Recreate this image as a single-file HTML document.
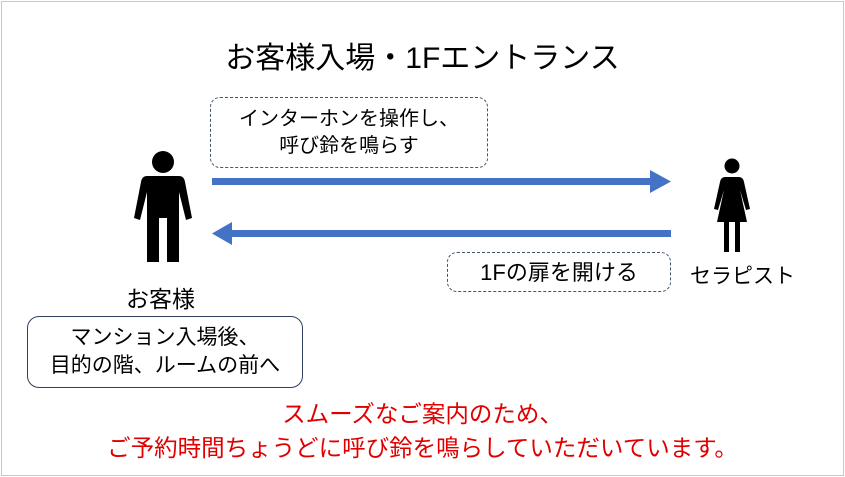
<!DOCTYPE html>
<html><head><meta charset="utf-8"><style>
body{margin:0;width:845px;height:477px;background:#fff;position:relative;overflow:hidden;font-family:"Liberation Sans","Noto Sans CJK JP",sans-serif;}
.t{position:absolute;white-space:nowrap;color:#000;}
.box{position:absolute;box-sizing:border-box;border-radius:10px;display:flex;align-items:center;justify-content:center;text-align:center;font-size:20px;line-height:27px;}
</style></head><body>
<div style="position:absolute;left:1px;top:1px;width:841px;height:473px;border:1px solid #c8c8c8;"></div>
<div class="t" style="left:0;width:845px;text-align:center;top:33px;font-size:30px;">お客様入場・1Fエントランス</div>
<div class="box" style="left:210px;top:97px;width:278px;height:71px;border:1px dashed #44546a;">インターホンを操作し、<br>呼び鈴を鳴らす</div>
<div class="box" style="left:447px;top:252px;width:224px;height:40px;border:1px dashed #44546a;font-size:22px;">1Fの扉を開ける</div>
<div class="box" style="left:27px;top:316px;width:276px;height:72px;border:1px solid #2f3f5f;border-radius:12px;font-size:21px;line-height:28px;">マンション入場後、<br>目的の階、ルームの前へ</div>
<div class="t" style="left:126px;top:280px;font-size:23px;">お客様</div>
<div class="t" style="left:690px;top:260px;font-size:21px;">セラピスト</div>
<div class="t" style="left:0;width:845px;text-align:center;top:397px;font-size:23.5px;line-height:34px;color:#e00000;">スムーズなご案内のため、<br>ご予約時間ちょうどに呼び鈴を鳴らしていただいています。</div>
<svg width="845" height="477" style="position:absolute;left:0;top:0">
<rect x="212" y="178" width="440" height="7" fill="#4472c4"/>
<polygon points="650,170 671,181.5 650,193" fill="#4472c4"/>
<rect x="230" y="230" width="441" height="7" fill="#4472c4"/>
<polygon points="232,222 212,233.5 232,245" fill="#4472c4"/>
<circle cx="163" cy="162" r="11" fill="#000"/>
<path d="M147,176 H179 Q184,176 185,182 L192,218 L186,220 L179,192 V262 H167 V218 H159 V262 H147 V192 L140,220 L134,218 L141,182 Q142,176 147,176Z" fill="#000"/>
<circle cx="732" cy="166" r="7.5" fill="#000"/>
<path d="M725,177 H739 Q743,177 744,182 L750,209 L746,210 L740,190 L747,222 H740 V252 H735 V222 H729 V252 H724 V222 H717 L724,190 L718,210 L714,209 L720,182 Q721,177 725,177Z" fill="#000"/>
</svg>
</body></html>
